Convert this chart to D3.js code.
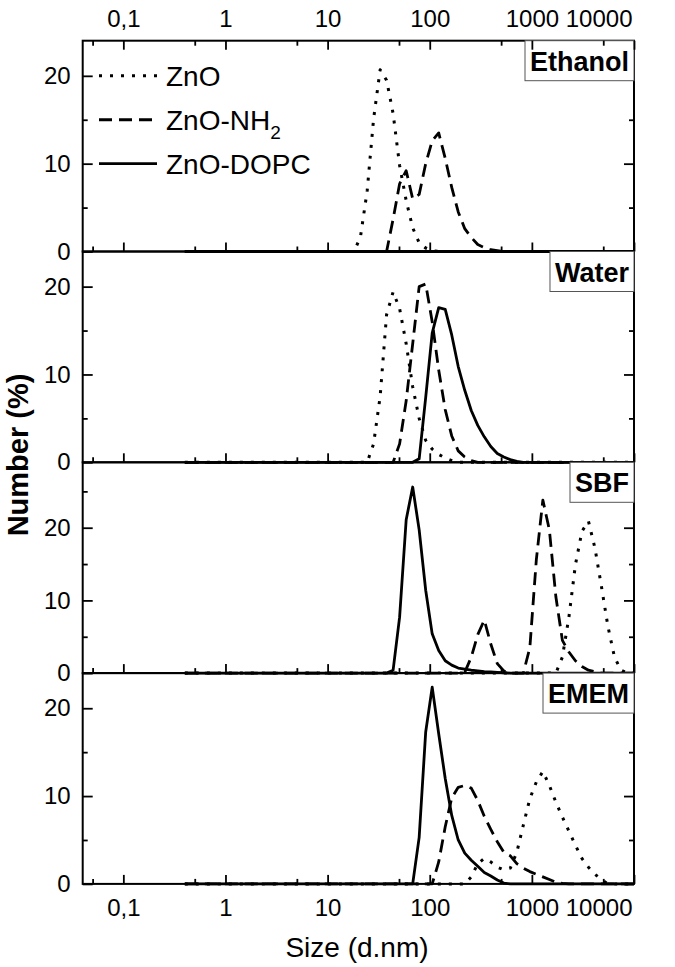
<!DOCTYPE html>
<html><head><meta charset="utf-8">
<script src="https://cdn.jsdelivr.net/npm/d3@7/dist/d3.min.js"></script>
<style>
html,body{margin:0;padding:0;background:#fff;}
text{font-family:"Liberation Sans",Arial,Helvetica,sans-serif;fill:#000;}
</style></head>
<body><svg id="chart" width="675" height="967"></svg>
<script>
// ---------- data ----------
const panelNames = ["Ethanol", "Water", "SBF", "EMEM"];
const panelYMax = [24, 24, 29, 24];
const seriesNames = ["ZnO", "ZnO-NH2", "ZnO-DOPC"];
const xMajorTicks = [0.1, 1, 10, 100, 1000, 10000];
const xMajorLabels = ["0,1", "1", "10", "100", "1000", "10000"];
const xMinorTicks = [0.05, 0.5, 5, 50, 500, 5000];

// Ethanol
const ethZnO_size = [0.4, 18.2, 21.0, 24.4, 28.2, 32.7, 37.8, 43.8, 50.7, 58.8, 68.1, 78.8, 91.3, 105.7, 122.4, 10000];
const ethZnO_val  = [0, 0, 1.7, 6.9, 15.1, 20.7, 19.5, 15.7, 9.8, 5.8, 2.7, 1.0, 0.4, 0.1, 0, 0];
const ethNH2_size = [0.4, 37.8, 43.8, 50.7, 58.8, 68.1, 78.8, 91.3, 105.7, 122.4, 141.8, 164.2, 190.1, 220.2, 255, 295.3, 342, 396.1, 458.7, 531.2, 10000];
const ethNH2_val  = [0, 0, 3.7, 7.7, 9.2, 6.0, 6.5, 10.0, 12.6, 13.5, 10.6, 7.3, 4.5, 2.6, 1.6, 0.8, 0.45, 0.2, 0.1, 0, 0];
const ethDOPC_size = [0.4, 10000];
const ethDOPC_val  = [0, 0];
// Water
const watZnO_size = [0.4, 24.4, 28.2, 32.7, 37.8, 43.8, 50.7, 58.8, 68.1, 78.8, 91.3, 105.7, 122.4, 141.8, 164.2, 190.1, 10000];
const watZnO_val  = [0, 0, 2.1, 7.5, 16.8, 19.4, 17.5, 13.5, 8.6, 5.0, 2.5, 1.5, 0.9, 0.5, 0.2, 0, 0];
const watNH2_size = [0.4, 43.8, 50.7, 58.8, 68.1, 78.8, 91.3, 105.7, 122.4, 141.8, 164.2, 190.1, 220.2, 255, 295.3, 10000];
const watNH2_val  = [0, 0, 2.1, 7.0, 13.5, 20.0, 20.3, 16.0, 10.5, 6.0, 3.0, 1.3, 0.6, 0.2, 0, 0];
const watDOPC_size = [0.4, 68.1, 78.8, 91.3, 105.7, 122.4, 141.8, 164.2, 190.1, 220.2, 255, 295.3, 342, 396.1, 458.7, 531.2, 615.1, 712.4, 825, 10000];
const watDOPC_val  = [0, 0, 0.4, 7.4, 14.7, 17.6, 17.4, 14.5, 10.9, 8.2, 5.9, 4.2, 2.9, 1.8, 1.0, 0.6, 0.3, 0.1, 0, 0];
// SBF
const sbfZnO_size = [0.4, 1718, 1990, 2305, 2669, 3091, 3580, 4145, 4801, 5560, 6439, 7456, 8635, 10000];
const sbfZnO_val  = [0, 0, 2.2, 7.7, 14.9, 19.5, 20.9, 17.2, 11.9, 6.4, 2.2, 0.4, 0, 0];
const sbfNH2_size = [0.4, 190.1, 220.2, 255, 295.3, 342, 396.1, 458.7, 531.2, 615.1, 712.4, 825, 955.4, 1106, 1281, 1484, 1718, 1990, 2305, 2669, 3091, 3580, 4145, 4801, 10000];
const sbfNH2_val  = [0, 0, 0.1, 2.2, 5.3, 7.3, 4.0, 1.3, 0.3, 0, 0, 0, 3.5, 15.6, 23.8, 19.7, 10.5, 4.5, 2.9, 1.7, 0.9, 0.4, 0.2, 0, 0];
const sbfDOPC_size = [0.4, 37.8, 43.8, 50.7, 58.8, 68.1, 78.8, 91.3, 105.7, 122.4, 141.8, 164.2, 190.1, 220.2, 255, 295.3, 342, 396.1, 458.7, 531.2, 615.1, 10000];
const sbfDOPC_val  = [0, 0, 0.4, 7.7, 21.1, 25.6, 19.7, 11.4, 5.4, 3.1, 1.7, 1.1, 0.7, 0.55, 0.4, 0.3, 0.2, 0.15, 0.1, 0.05, 0, 0];
// EMEM
const emZnO_size = [0.4, 220.2, 255, 295.3, 342, 396.1, 458.7, 531.2, 615.1, 712.4, 825, 955.4, 1106, 1281, 1484, 1718, 1990, 2305, 2669, 3091, 3580, 4145, 4801, 5560, 10000];
const emZnO_val  = [0, 0, 0.8, 2.3, 2.9, 2.5, 1.9, 1.6, 1.8, 3.6, 6.7, 9.7, 11.6, 12.8, 11.2, 9.3, 7.6, 6.0, 4.4, 2.9, 1.9, 1.1, 0.5, 0, 0];
const emNH2_size = [0.4, 105.7, 122.4, 141.8, 164.2, 190.1, 220.2, 255, 295.3, 342, 396.1, 458.7, 531.2, 615.1, 712.4, 825, 955.4, 1106, 1281, 1484, 1718, 1990, 2305, 10000];
const emNH2_val  = [0, 0, 2.5, 6.5, 9.8, 11.0, 11.2, 10.9, 9.5, 7.7, 6.2, 4.8, 3.6, 3.2, 2.3, 1.8, 1.4, 1.1, 0.8, 0.5, 0.2, 0.05, 0, 0];
const emDOPC_size = [0.4, 68.1, 78.8, 91.3, 105.7, 122.4, 141.8, 164.2, 190.1, 220.2, 255, 295.3, 342, 396.1, 458.7, 531.2, 615.1, 10000];
const emDOPC_val  = [0, 0, 5.3, 17.3, 22.4, 17.1, 12.0, 7.8, 5.0, 3.5, 2.7, 2.0, 1.3, 0.9, 0.45, 0.1, 0, 0];

const panelSeries = [
  [[ethZnO_size, ethZnO_val], [ethNH2_size, ethNH2_val], [ethDOPC_size, ethDOPC_val]],
  [[watZnO_size, watZnO_val], [watNH2_size, watNH2_val], [watDOPC_size, watDOPC_val]],
  [[sbfZnO_size, sbfZnO_val], [sbfNH2_size, sbfNH2_val], [sbfDOPC_size, sbfDOPC_val]],
  [[emZnO_size, emZnO_val], [emNH2_size, emNH2_val], [emDOPC_size, emDOPC_val]]
];

// ---------- layout ----------
const L = 82.7, R = 634, T = 40.7, PH = 210.8;
const TICK_FS = "24px";
const styles = [
  {dash: "3,8", width: 3},
  {dash: "13,7", width: 2.8},
  {dash: null, width: 2.8}
];

const svg = d3.select("#chart");
const x = d3.scaleLog().domain([0.04, 10000]).range([L, R]);
const lineGen = (y) => d3.line().x(d => x(d[0])).y(d => y(d[1]));

function styleXLabels(a) {
  a.select(".domain").remove();
  a.selectAll("text").style("font-size", TICK_FS);
  // last label ("10000") kept inside the frame edge
  a.selectAll("text").filter(d => d === 10000).attr("text-anchor", "end").attr("x", -2);
}

panelNames.forEach((name, i) => {
  const top = T + i * PH, bot = top + PH;
  const y = d3.scaleLinear().domain([0, panelYMax[i]]).range([bot, top]);
  const g = svg.append("g");

  // series
  panelSeries[i].forEach((s, k) => {
    const pts = s[0].map((v, j) => [v, s[1][j]]);
    const p = g.append("path").datum(pts)
      .attr("d", lineGen(y))
      .attr("fill", "none").attr("stroke", "#000")
      .attr("stroke-width", styles[k].width)
      .attr("stroke-linejoin", "round");
    if (styles[k].dash) p.attr("stroke-dasharray", styles[k].dash);
  });

  const axG = g.append("g");
  // x ticks at panel bottom (inward)
  axG.append("g").attr("transform", `translate(0,${bot})`)
    .call(d3.axisBottom(x).tickValues(xMajorTicks).tickSize(-9).tickFormat(""))
    .call(a => a.select(".domain").remove());
  axG.append("g").attr("transform", `translate(0,${bot})`)
    .call(d3.axisBottom(x).tickValues(xMinorTicks).tickSize(-5).tickFormat(""))
    .call(a => a.select(".domain").remove());

  // y ticks left and right
  const yMaj = d3.range(0, panelYMax[i] + 0.01, 10);
  const yMin = d3.range(5, panelYMax[i] + 0.01, 10);
  axG.append("g").attr("transform", `translate(${L},0)`)
    .call(d3.axisLeft(y).tickValues(yMaj).tickSize(-10).tickPadding(12).tickFormat(d3.format("d")))
    .call(a => a.select(".domain").remove())
    .call(a => a.selectAll("text").style("font-size", TICK_FS));
  axG.append("g").attr("transform", `translate(${L},0)`)
    .call(d3.axisLeft(y).tickValues(yMin).tickSize(-5).tickFormat(""))
    .call(a => a.select(".domain").remove());
  axG.append("g").attr("transform", `translate(${R},0)`)
    .call(d3.axisRight(y).tickValues(yMaj).tickSize(-10).tickFormat(""))
    .call(a => a.select(".domain").remove());
  axG.append("g").attr("transform", `translate(${R},0)`)
    .call(d3.axisRight(y).tickValues(yMin).tickSize(-5).tickFormat(""))
    .call(a => a.select(".domain").remove());
  axG.selectAll(".tick line").attr("stroke", "#000").attr("stroke-width", 1.8);

  // frame
  g.append("rect").attr("x", L).attr("y", top).attr("width", R - L).attr("height", PH)
    .attr("fill", "none").attr("stroke", "#000").attr("stroke-width", 2);

  // panel label box
  const boxRect = g.append("rect");
  const lbl = g.append("text").text(name)
    .attr("font-weight", "bold").style("font-size", "27px")
    .attr("text-anchor", "end").attr("x", R - 5).attr("y", top + 30);
  const bb = lbl.node().getBBox();
  boxRect.attr("x", bb.x - 5).attr("y", top).attr("width", R - (bb.x - 5)).attr("height", 40)
    .attr("fill", "#fff").attr("stroke", "#555").attr("stroke-width", 1);

  if (i === 0) {
    // top axis
    g.append("g").attr("transform", `translate(0,${top})`)
      .call(d3.axisTop(x).tickValues(xMajorTicks).tickSize(-9).tickPadding(14)
        .tickFormat((d, j) => xMajorLabels[j]))
      .call(styleXLabels)
      .call(a => a.selectAll(".tick line").attr("stroke-width", 1.8));
    g.append("g").attr("transform", `translate(0,${top})`)
      .call(d3.axisTop(x).tickValues(xMinorTicks).tickSize(-5).tickFormat(""))
      .call(a => a.select(".domain").remove())
      .call(a => a.selectAll(".tick line").attr("stroke-width", 1.8));

    // legend
    const legY = [y(20), y(15), y(10)];
    seriesNames.forEach((nm, k) => {
      const ln = g.append("line").attr("x1", 99).attr("x2", 157)
        .attr("y1", legY[k]).attr("y2", legY[k])
        .attr("stroke", "#000").attr("stroke-width", styles[k].width);
      if (styles[k].dash) ln.attr("stroke-dasharray", styles[k].dash);
      const t = g.append("text").attr("x", 166).attr("y", legY[k] + 10).style("font-size", "28px");
      if (nm === "ZnO-NH2") {
        t.append("tspan").text("ZnO-NH");
        t.append("tspan").text("2").attr("dy", 9).style("font-size", "19px");
      } else t.text(nm);
    });
  }
  if (i === panelNames.length - 1) {
    g.append("g").attr("transform", `translate(0,${bot})`)
      .call(d3.axisBottom(x).tickValues(xMajorTicks).tickSize(0).tickPadding(15)
        .tickFormat((d, j) => xMajorLabels[j]))
      .call(styleXLabels);
  }
});

// axis titles
svg.append("text").attr("x", 357).attr("y", 957).attr("text-anchor", "middle")
  .style("font-size", "28px").text("Size (d.nm)");
svg.append("text").attr("transform", "translate(28,455) rotate(-90)")
  .attr("text-anchor", "middle").attr("font-weight", "bold")
  .style("font-size", "29px").text("Number (%)");
</script></body></html>
